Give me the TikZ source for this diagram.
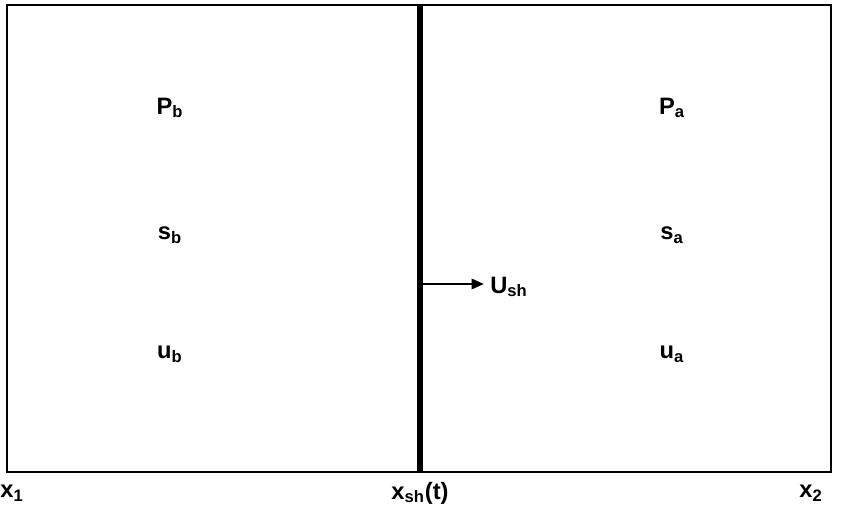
\documentclass[tikz,border=0pt]{standalone}
\usepackage{fontspec}
\setmainfont{Liberation Sans}
\usetikzlibrary{positioning,arrows.meta}

\begin{document}
\begin{tikzpicture}[x=0.02cm,y=-0.02cm,
  lbl/.style={font=\bfseries\fontsize{13.5}{15}\selectfont, inner sep=0pt},
  tube/.style={draw, line width=1.1pt},
  front/.style={line width=3.6pt},
  vel/.style={-{Triangle[length=7pt,width=6pt]}, line width=1pt}
]
  \useasboundingbox (0,0) rectangle (849,507);

  % computational domain and shock front
  \node[tube, minimum width=16.48cm, minimum height=9.34cm, inner sep=0pt] (dom) at (419,238.5) {};
  \coordinate (shtop) at (420,5);
  \coordinate (shbot) at (420,472);
  \draw[front] (shtop) -- (shbot);

  % states behind / ahead
  \node[lbl] (pb) at (170,108) {P\textsubscript{b}};
  \node[lbl] (sb) at (170,235) {s\textsubscript{b}};
  \node[lbl] (ub) at (170,354) {u\textsubscript{b}};
  \node[lbl] (pa) at (672,108) {P\textsubscript{a}};
  \node[lbl] (sa) at (672,235) {s\textsubscript{a}};
  \node[lbl] (ua) at (672,354) {u\textsubscript{a}};

  % shock speed
  \coordinate (ush0) at (420,284);
  \node[lbl, anchor=west] (ush) at (490,287) {U\textsubscript{sh}};
  \draw[vel, shorten >=3.5pt] (ush0) -- (ush0 -| ush.west);

  % axis labels
  \node[lbl, anchor=west] (x1) at (0,493) {x\textsubscript{1}};
  \node[lbl] (xsh) at (420,493) {x\textsubscript{sh}(t)};
  \node[lbl] (x2) at (811,493) {x\textsubscript{2}};
\end{tikzpicture}
\end{document}
